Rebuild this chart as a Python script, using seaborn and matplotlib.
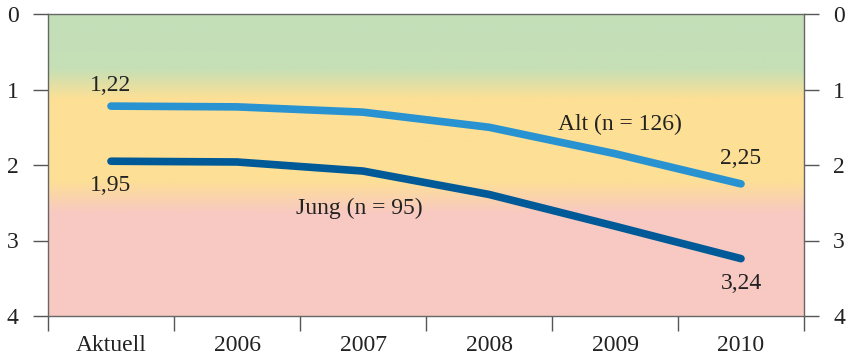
import numpy as np
import pandas as pd
import matplotlib.pyplot as plt
from matplotlib.colors import LinearSegmentedColormap
import seaborn as sns

# Data
categories = ['Aktuell', '2006', '2007', '2008', '2009', '2010']
alt_values = [1.22, 1.23, 1.30, 1.50, 1.85, 2.25]
jung_values = [1.95, 1.96, 2.08, 2.39, 2.81, 3.24]
y_ticks = [0, 1, 2, 3, 4]


def main():
    sns.set_style('white')
    plt.rcParams['font.family'] = ['Liberation Serif', 'DejaVu Serif']

    df = pd.DataFrame({
        'pos': list(range(len(categories))) * 2,
        'wert': alt_values + jung_values,
        'gruppe': ['Alt'] * len(alt_values) + ['Jung'] * len(jung_values),
    })

    fig = plt.figure(figsize=(8.47, 3.6), dpi=100)
    ax = fig.add_axes([48 / 847, 44 / 360, 756 / 847, 302 / 360])

    # background gradient: green -> yellow -> pink
    cmap = LinearSegmentedColormap.from_list('bg', [
        (0.0, '#c3dfb9'),
        (0.18, '#c6dfb6'),
        (0.28, '#fde095'),
        (0.55, '#fde095'),
        (0.66, '#f8c9c2'),
        (1.0, '#f8c9c2'),
    ])
    grad = np.linspace(0, 1, 400).reshape(-1, 1)
    ax.imshow(grad, extent=[-0.5, 5.5, 4, 0], aspect='auto', cmap=cmap,
              zorder=0, interpolation='bilinear')

    sns.lineplot(data=df, x='pos', y='wert', hue='gruppe',
                 palette={'Alt': '#2993d1', 'Jung': '#005a97'},
                 linewidth=5.5, legend=False, ax=ax, sort=False, zorder=3)
    for line in ax.get_lines():
        line.set_solid_capstyle('round')
        line.set_solid_joinstyle('round')

    ax.set_xlim(-0.5, 5.5)
    ax.set_ylim(4, 0)
    ax.set_xlabel('')
    ax.set_ylabel('')

    fs = 17
    # x: labels at centres, ticks at boundaries
    ax.set_xticks(range(len(categories)))
    ax.set_xticklabels(categories, fontsize=fs)
    ax.set_xticks(np.arange(-0.5, len(categories), 1), minor=True)
    ax.tick_params(axis='x', which='major', length=0, pad=14, colors='#222222')
    ax.tick_params(axis='x', which='minor', length=11, width=1, color='#555555',
                   direction='out', bottom=True)

    ax.set_yticks(y_ticks)
    ax.set_yticklabels([str(t) for t in y_ticks], fontsize=fs)
    ax.tick_params(axis='y', which='major', length=11, width=1, color='#555555',
                   left=True, right=True, labelleft=True, labelright=True,
                   pad=10, labelcolor='#222222')

    for side in ['top', 'bottom', 'left', 'right']:
        ax.spines[side].set_visible(True)
        ax.spines[side].set_color('#666666')
        ax.spines[side].set_linewidth(1)

    # value labels
    ax.text(0, 0.95, '1,22', ha='center', va='center', fontsize=fs, color='#222222')
    ax.text(0, 2.27, '1,95', ha='center', va='center', fontsize=fs, color='#222222')
    ax.text(5, 1.91, '2,25', ha='center', va='center', fontsize=fs, color='#222222')
    ax.text(5, 3.57, '3,24', ha='center', va='center', fontsize=fs, color='#222222')
    ax.text(4.04, 1.46, 'Alt (n = 126)', ha='center', va='center', fontsize=fs, color='#222222')
    ax.text(1.97, 2.57, 'Jung (n = 95)', ha='center', va='center', fontsize=fs, color='#222222')

    fig.savefig('out.png', dpi=100)


if __name__ == '__main__':
    main()
